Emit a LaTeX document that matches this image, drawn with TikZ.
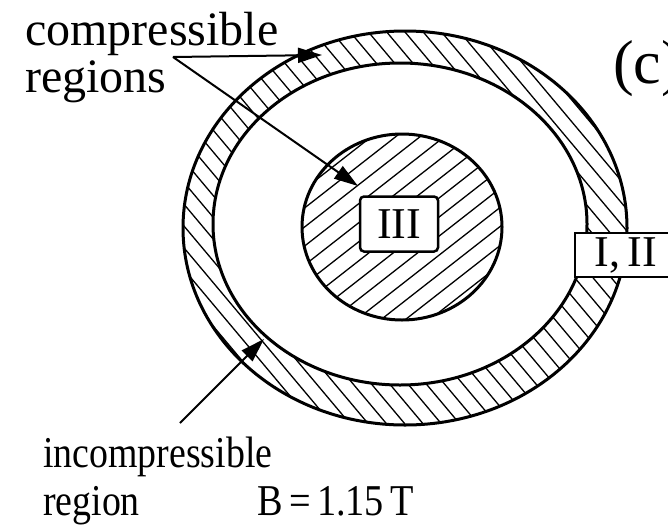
\documentclass[tikz,border=0pt]{standalone}
\usepackage{fontspec}
\setmainfont{Liberation Serif}
\usetikzlibrary{arrows.meta}
\begin{document}
\begin{tikzpicture}[x=1pt,y=-1pt,
  outline/.style={line width=3pt},
  hatch/.style={line width=1.3pt},
  label/.style={inner sep=0pt,anchor=base west,font=\fontsize{48}{48}\selectfont},
  smalllabel/.style={inner sep=0pt,anchor=base west,font=\fontsize{44}{44}\selectfont},
  regionbox/.style={draw,line width=2.5pt,fill=white,rounded corners=4pt,inner sep=0pt,font=\fontsize{44}{44}\selectfont},
  pointer/.style={line width=2pt,-{Triangle[length=24pt,width=15pt]}}]
\useasboundingbox (0,0) rectangle (668,528);
% outer ring hatching
\begin{scope}[even odd rule]
  \clip (405,228) ellipse[x radius=222pt,y radius=197pt]
        (400,224) ellipse[x radius=187pt,y radius=161pt];
  \foreach \k in {-24,...,24}{
    \draw[hatch] ({405-\k*14*0.766-320*0.643},{228+\k*14*0.643-320*0.766}) --
                 ({405-\k*14*0.766+320*0.643},{228+\k*14*0.643+320*0.766});
  }
\end{scope}
% inner disk hatching
\begin{scope}
  \clip (402,227) ellipse[x radius=100pt,y radius=93pt];
  \foreach \k in {-9,...,9}{
    \draw[hatch] ({402+\k*15*0.616-160*0.788},{227+\k*15*0.788+160*0.616}) --
                 ({402+\k*15*0.616+160*0.788},{227+\k*15*0.788-160*0.616});
  }
\end{scope}
\draw[outline] (405,228) ellipse[x radius=222pt,y radius=197pt];
\draw[outline] (400,224) ellipse[x radius=187pt,y radius=161pt];
\draw[outline] (402,227) ellipse[x radius=100pt,y radius=93pt];
% boxes
\node[regionbox,minimum width=78pt,minimum height=55pt] (III) at (399,224) {III};
\node[regionbox,rounded corners=0pt,minimum width=106pt,minimum height=44pt] (I) at (628,255) {\hspace*{-4pt}I,\,II};
% labels
\node[label] (comp) at (25,45) {compressible};
\node[label] (regs) at (25,92) {regions};
\node[smalllabel] (incomp) at (43,467) {\scalebox{0.86}[1]{incompressible}};
\node[smalllabel] (reg) at (43,515) {\scalebox{0.86}[1]{region}};
\node[smalllabel] (B) at (257,515) {\scalebox{0.87}[1]{B\,=\,1.15\,T}};
\node[inner sep=0pt,anchor=base west,font=\fontsize{62}{62}\selectfont] (c) at (613,83) {(c)};
% pointers
\coordinate (fork) at (173,57);
\coordinate (tipA) at (322,55);
\coordinate (tipB) at (358,186);
\coordinate (startC) at (180,423);
\coordinate (tipC) at (264,339);
\draw[pointer] (fork) -- (tipA);
\draw[pointer] (fork) -- (tipB);
\draw[pointer] (startC) -- (tipC);
\end{tikzpicture}
\end{document}
